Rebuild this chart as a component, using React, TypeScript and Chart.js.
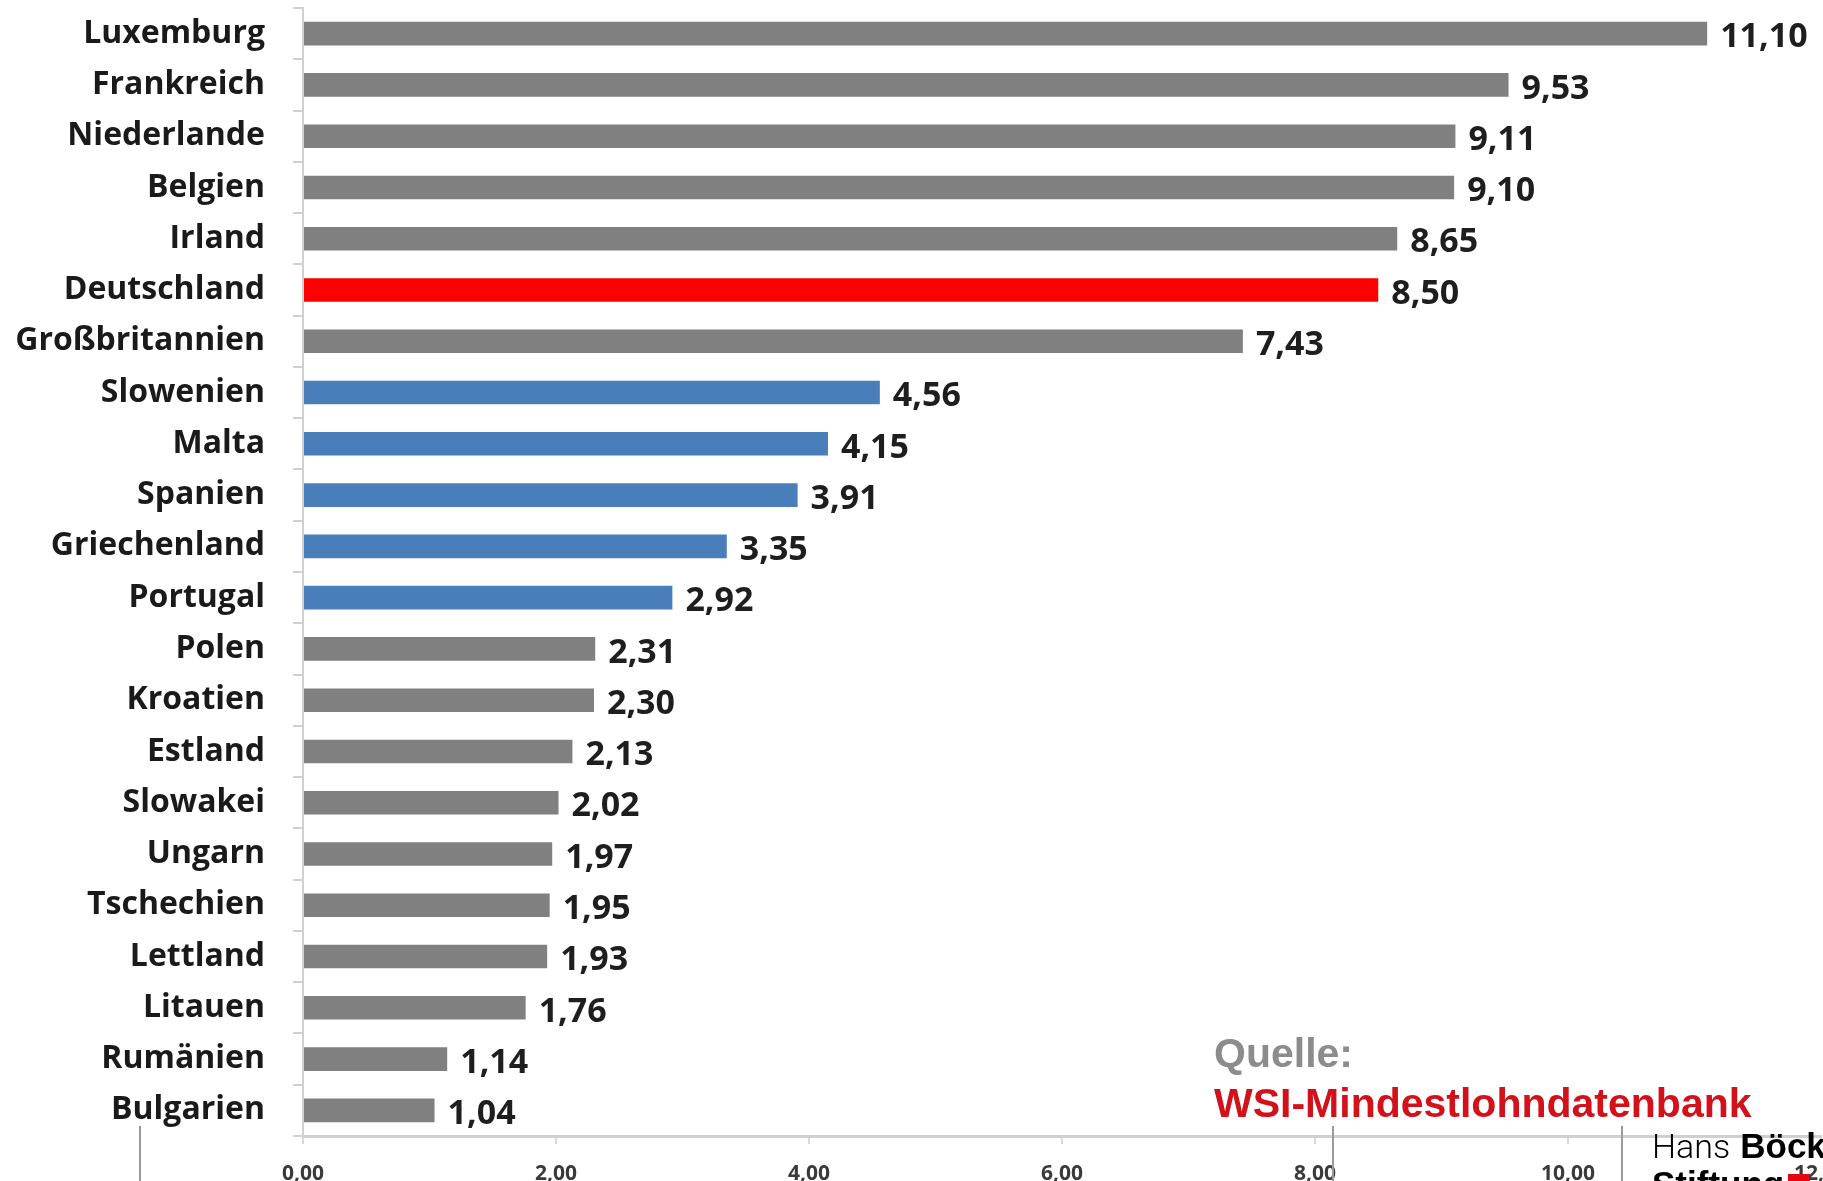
import React, { useEffect, useRef } from "react";
import { Chart, registerables } from "chart.js";

Chart.register(...registerables);

const countries: string[] = [
  "Luxemburg", "Frankreich", "Niederlande", "Belgien", "Irland", "Deutschland",
  "Großbritannien", "Slowenien", "Malta", "Spanien", "Griechenland", "Portugal",
  "Polen", "Kroatien", "Estland", "Slowakei", "Ungarn", "Tschechien", "Lettland",
  "Litauen", "Rumänien", "Bulgarien",
];

const wages: number[] = [
  11.10, 9.53, 9.11, 9.10, 8.65, 8.50, 7.43, 4.56, 4.15, 3.91, 3.35, 2.92,
  2.31, 2.30, 2.13, 2.02, 1.97, 1.95, 1.93, 1.76, 1.14, 1.04,
];

// group per country: "west" (grey), "de" (red), "south" (blue), "east" (grey)
const groups: string[] = [
  "west", "west", "west", "west", "west", "de", "west", "south", "south", "south",
  "south", "south", "east", "east", "east", "east", "east", "east", "east", "east",
  "east", "east",
];

const xTicks: number[] = [0, 2, 4, 6, 8, 10, 12];

const groupColors: Record<string, string> = {
  west: "#808080",
  east: "#808080",
  de: "#ff0000",
  south: "#4a7ebb",
};

const fmt = (v: number) => v.toFixed(2).replace(".", ",");

const valueLabels = {
  id: "valueLabels",
  afterDatasetsDraw(chart: any) {
    const ctx = chart.ctx;
    const meta = chart.getDatasetMeta(0);
    ctx.save();
    ctx.font = "bold 34px 'Open Sans'";
    ctx.fillStyle = "#1e1e1e";
    ctx.textAlign = "left";
    ctx.textBaseline = "middle";
    meta.data.forEach((bar: any, i: number) => {
      ctx.fillText(fmt(wages[i]), bar.x + 13, bar.y + 4);
    });
    ctx.restore();
  },
};

export default function App() {
  const ref = useRef<HTMLCanvasElement | null>(null);

  useEffect(() => {
    if (!ref.current) return;
    const chart = new Chart(ref.current, {
      type: "bar",
      data: {
        labels: countries,
        datasets: [
          {
            data: wages,
            backgroundColor: groups.map((g) => groupColors[g]),
            barPercentage: 0.46,
            categoryPercentage: 1,
          },
        ],
      },
      options: {
        indexAxis: "y",
        animation: false,
        responsive: false,
        devicePixelRatio: 1,
        layout: { padding: { top: 8, left: 0, right: 2, bottom: 0 } },
        plugins: {
          legend: { display: false },
          tooltip: { enabled: false },
        },
        scales: {
          x: {
            min: 0,
            max: 12,
            afterBuildTicks: (scale: any) => {
              scale.ticks = xTicks.map((v) => ({ value: v }));
            },
            afterFit: (scale: any) => {
              scale.height = 45;
              scale.paddingLeft = 0;
              scale.paddingRight = 0;
            },
            grid: {
              drawOnChartArea: false,
              drawTicks: true,
              tickLength: 8,
              color: "#d9d9d9",
              lineWidth: 2,
            },
            border: { color: "#d0d0d0", width: 3 },
            ticks: {
              padding: 17,
              color: "#3a3a3a",
              font: { family: "Open Sans", weight: "bold", size: 21 },
              callback: (v: any) => fmt(Number(v)),
            },
          },
          y: {
            afterFit: (scale: any) => {
              scale.width = 303;
              scale.paddingTop = 0;
              scale.paddingBottom = 0;
            },
            grid: {
              drawOnChartArea: false,
              drawTicks: true,
              tickLength: 10,
              color: "#d0d0d0",
              lineWidth: 2,
            },
            border: { color: "#d0d0d0", width: 2 },
            ticks: {
              padding: 28,
              color: "#1a1a1a",
              font: { family: "Open Sans", weight: "bold", size: 32 },
            },
          },
        },
      },
      plugins: [valueLabels],
    });
    return () => chart.destroy();
  }, []);

  const vline = (x: number): React.CSSProperties => ({
    position: "absolute",
    left: x,
    top: 1126,
    width: 2,
    height: 60,
    background: "#9a9a9a",
  });

  const boldLogo: React.CSSProperties = {
    fontFamily: "'Liberation Sans', Arial, sans-serif",
    fontWeight: 700,
    fontSize: 35,
  };

  return (
    <div
      style={{
        position: "absolute",
        left: 0,
        top: 0,
        width: 1823,
        height: 1181,
        overflow: "hidden",
        background: "#ffffff",
      }}
    >
      <canvas
        ref={ref}
        width={1823}
        height={1181}
        style={{ position: "absolute", left: 0, top: 0, width: 1823, height: 1181 }}
      />
      <div
        style={{
          position: "absolute",
          left: 1214,
          top: 1030,
          font: "bold 41px 'Liberation Sans', Arial, sans-serif",
          color: "#8c8c8c",
          lineHeight: "46px",
          whiteSpace: "nowrap",
        }}
      >
        Quelle:
      </div>
      <div
        style={{
          position: "absolute",
          left: 1214,
          top: 1080,
          font: "bold 41px 'Liberation Sans', Arial, sans-serif",
          color: "#d3111b",
          lineHeight: "46px",
          whiteSpace: "nowrap",
        }}
      >
        WSI-Mindestlohndatenbank
      </div>
      <div style={vline(139)} />
      <div style={vline(1332)} />
      <div style={vline(1621)} />
      <div
        style={{
          position: "absolute",
          left: 1652,
          top: 1127,
          color: "#000000",
          lineHeight: "38px",
          whiteSpace: "nowrap",
        }}
      >
        <div style={{ height: 38 }}>
          <span style={{ fontFamily: "Roboto, sans-serif", fontWeight: 300, fontSize: 34 }}>Hans</span>
          <span style={{ ...boldLogo, marginLeft: 10 }}>Böckler</span>
        </div>
        <div style={{ height: 38 }}>
          <span style={boldLogo}>Stiftung</span>
          <span
            style={{
              display: "inline-block",
              width: 22,
              height: 22,
              background: "#e30613",
              marginLeft: 4,
            }}
          />
        </div>
      </div>
    </div>
  );
}
